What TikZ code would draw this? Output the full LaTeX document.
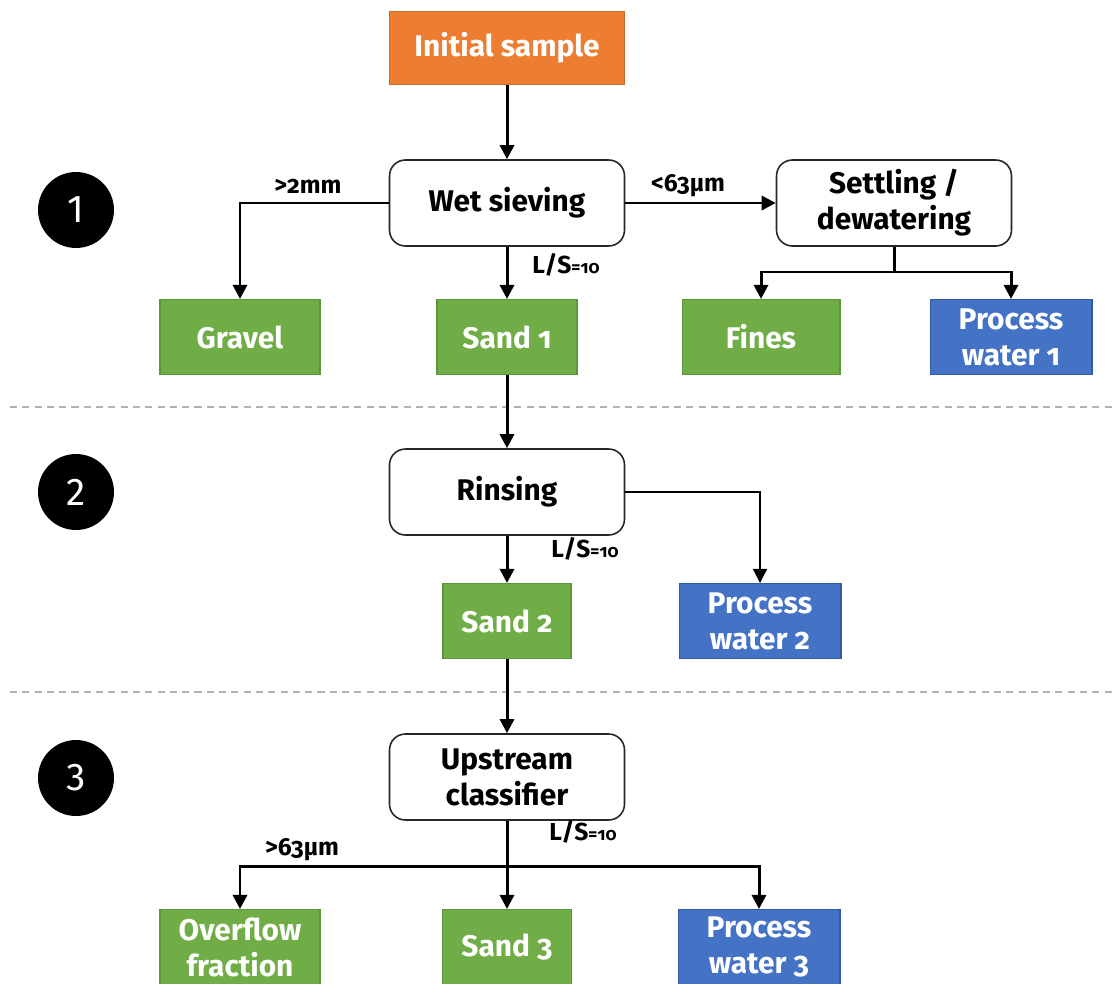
\documentclass[tikz,border=0pt]{standalone}
\usepackage{fontspec}
\setmainfont{Fira Sans}[Numbers=OldStyle]
\usetikzlibrary{arrows.meta}
\definecolor{myorange}{RGB}{237,125,49}
\definecolor{mygreen}{RGB}{112,173,71}
\definecolor{mygreenline}{RGB}{90,150,60}
\definecolor{myblue}{RGB}{68,114,196}
\definecolor{mybluelin}{RGB}{50,90,165}
\newcommand{\lsratio}{L/S{\fontsize{10}{12}\selectfont=10}}

\begin{document}
\begin{tikzpicture}[x=0.02cm,y=-0.02cm,
  flow/.style={line width=1.7pt,-{Triangle[length=8pt,width=8pt]}},
  thinflow/.style={line width=0.7pt,-{Triangle[length=8pt,width=8pt]}},
  boxtext/.style={align=center,font=\bfseries\fontsize{17}{20.5}\selectfont},
  stepbox/.style={boxtext,draw=black!85,line width=0.9pt,rounded corners=9pt,fill=white,
    minimum width=4.7cm,minimum height=1.72cm,inner sep=0pt},
  outbox/.style={boxtext,text=white,line width=0.6pt,minimum height=1.5cm,inner sep=0pt},
  initbox/.style={outbox,fill=myorange,draw=myorange!85!black,minimum width=4.7cm,minimum height=1.46cm},
  product/.style={outbox,fill=mygreen,draw=mygreenline},
  water/.style={outbox,fill=myblue,draw=mybluelin},
  stagenum/.style={circle,fill=black,text=white,minimum size=1.52cm,inner sep=0pt,
    font=\addfontfeatures{Numbers=Lining}\fontsize{22}{26}\selectfont},
  cutlabel/.style={font=\bfseries\fontsize{14}{16}\selectfont},
  divider/.style={black!30,line width=1pt,dash pattern=on 4pt off 3pt}
]
\clip (0,0) rectangle (1114,983);

% stages
\node[stagenum] (s1) at (76,210) {1};
\node[stagenum] (s2) at (76,492) {2};
\node[stagenum] (s3) at (76,778) {3};

\draw[divider] (10,407) -- (1114,407);
\draw[divider] (10,692) -- (1114,692);

% stage 1
\node[initbox] (init) at (507,48) {Initial sample};
\node[stepbox] (wet) at (507,203) {Wet sieving};
\node[stepbox] (settle) at (894,203) {Settling /\\dewatering};
\node[product,minimum width=3.2cm] (gravel) at (240,337) {Gravel};
\node[product,minimum width=2.8cm] (sand1) at (507,337) {Sand 1};
\node[product,minimum width=3.16cm] (fines) at (761,337) {Fines};
\node[water,minimum width=3.24cm] (pw1) at (1011,337) {Process\\water 1};
\coordinate (split1) at (894,272);

\draw[flow] (init) -- (wet);
\draw[flow] (wet.west) -| (gravel.north);
\draw[flow] (wet) -- (settle);
\draw[flow] (wet) -- (sand1);
\draw[line width=1.7pt] (settle) -- (split1);
\draw[flow] (split1) -| (fines);
\draw[flow] (split1) -| (pw1);
\node[cutlabel] (cut1) at (308,186) {>2mm};
\node[cutlabel] (cut2) at (688,186) {<63µm};
\node[cutlabel] (ls1) at (566,265) {\lsratio};

% stage 2
\node[stepbox] (rinse) at (507,492) {Rinsing};
\node[product,minimum width=2.56cm] (sand2) at (507,621) {Sand 2};
\node[water,minimum width=3.24cm] (pw2) at (760,621) {Process\\water 2};

\draw[flow] (sand1) -- (rinse);
\draw[flow] (rinse) -- (sand2);
\draw[thinflow] (rinse) -| (pw2);
\node[cutlabel] (ls2) at (585,549) {\lsratio};

% stage 3
\node[stepbox] (upclass) at (507,777) {Upstream\\classifier};
\node[product,minimum width=3.2cm] (overflow) at (240,947) {Overflow\\fraction};
\node[product,minimum width=2.58cm] (sand3) at (507,947) {Sand 3};
\node[water,minimum width=3.24cm] (pw3) at (759,947) {Process\\water 3};
\coordinate (split3) at (507,866);

\draw[flow] (sand2) -- (upclass);
\draw[flow] (upclass) -- (sand3);
\draw[flow] (split3) -| (overflow);
\draw[flow] (split3) -| (pw3);
\node[cutlabel] (cut3) at (302,850) {>63µm};
\node[cutlabel] (ls3) at (583,832) {\lsratio};
\end{tikzpicture}
\end{document}
